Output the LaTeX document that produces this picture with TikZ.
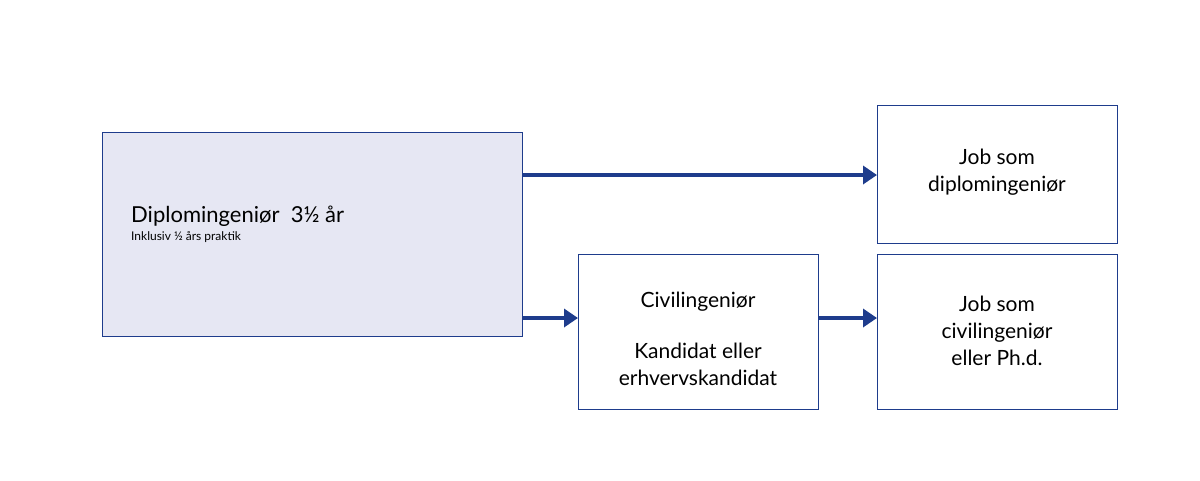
\documentclass[tikz,border=0pt]{standalone}
\usepackage{fontspec}
\setmainfont{Lato}
\usetikzlibrary{arrows.meta}
\definecolor{dblue}{HTML}{1E3C8C}
\definecolor{lav}{HTML}{E6E7F3}
\begin{document}
\begin{tikzpicture}[x=1pt,y=-1pt,
  box/.style={draw=dblue,line width=1pt,anchor=north west,inner sep=0pt},
  lbl/.style={align=center,font=\fontsize{21}{27}\selectfont,text=black},
  conn/.style={draw=dblue,line width=4.5pt,-{Triangle[length=14pt,width=18pt]}}]
\useasboundingbox (0,0) rectangle (1200,480);
\node[box,fill=lav,minimum width=420pt,minimum height=204pt] (dip) at (102,132) {};
\node[box,minimum width=240pt,minimum height=138pt] (job1) at (877,105) {};
\node[box,minimum width=240pt,minimum height=155pt] (civ) at (578,254) {};
\node[box,minimum width=240pt,minimum height=155pt] (job2) at (877,254) {};
\node[anchor=west,inner sep=0pt,font=\fontsize{22}{26}\selectfont] (t1) at (131,216) {Diplomingeniør\ \ 3½ år};
\node[anchor=west,inner sep=0pt,font=\fontsize{12}{14}\selectfont] (t2) at (131,237) {Inklusiv ½ års praktik};
\node[lbl] (tj1) at (997,172) {Job som\\diplomingeniør};
\node[lbl] (tc1) at (698,302) {Civilingeniør};
\node[lbl] (tc2) at (698,364) {Kandidat eller\\erhvervskandidat};
\node[lbl] (tj2) at (997,331) {Job som\\civilingeniør\\eller Ph.d.};
\draw[conn] (dip.east |- 0,175) -- (job1.west |- 0,175);
\draw[conn] (dip.east |- 0,318) -- (civ.west |- 0,318);
\draw[conn] (civ.east |- 0,318) -- (job2.west |- 0,318);
\end{tikzpicture}
\end{document}
